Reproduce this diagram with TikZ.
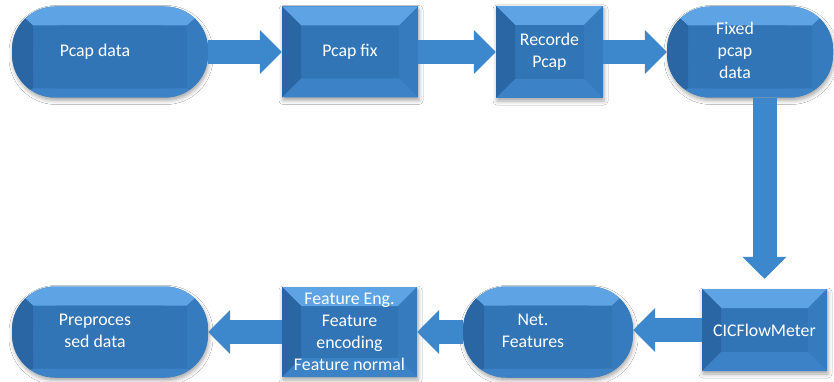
\documentclass[tikz,border=0pt]{standalone}
\usepackage{fontspec}
\setmainfont{Carlito}
\usetikzlibrary{arrows.meta,shadows.blur}

\definecolor{faceblue}{RGB}{50,117,182}
\definecolor{topblue}{RGB}{94,164,228}
\definecolor{leftblue}{RGB}{42,102,163}
\definecolor{rightblue}{RGB}{54,123,190}
\definecolor{botblue}{RGB}{60,130,198}
\definecolor{arrowblue}{RGB}{61,135,204}

% bevelled faces of a node: top, side and bottom inset
\newcommand{\bevelfaces}[3]{%
  \coordinate (a) at (path picture bounding box.north west);
  \coordinate (b) at (path picture bounding box.north east);
  \coordinate (c) at (path picture bounding box.south east);
  \coordinate (d) at (path picture bounding box.south west);
  \coordinate (ia) at ([xshift=#2,yshift=-#1]a);
  \coordinate (ib) at ([xshift=-#2,yshift=-#1]b);
  \coordinate (ic) at ([xshift=-#2,yshift=#3]c);
  \coordinate (id) at ([xshift=#2,yshift=#3]d);
  \fill[topblue,sharp corners] (a) -- (b) -- (ib) -- (ia) -- cycle;
  \fill[leftblue,sharp corners] (a) -- (ia) -- (id) -- (d) -- cycle;
  \fill[rightblue,sharp corners] (b) -- (c) -- (ic) -- (ib) -- cycle;
  \fill[botblue,sharp corners] (d) -- (id) -- (ic) -- (c) -- cycle;
}
% text of the round ends sits a little to the left
\newcommand{\pilltext}[1]{\begin{tabular}{@{}c@{}}#1\end{tabular}\hspace*{30pt}}

\begin{document}
\begin{tikzpicture}[x=1pt, y=-1pt, every node/.style={font=\fontsize{17.8}{22}\selectfont, text=white, align=center, inner sep=0pt}]
  \tikzstyle{drop}=[blur shadow={shadow xshift=1pt, shadow yshift=-3pt, shadow blur radius=4pt, shadow opacity=35}]
  \tikzstyle{box}=[fill=faceblue, drop, minimum height=91pt, path picture={\bevelfaces{19pt}{19pt}{19pt}}]
  \tikzstyle{pill}=[fill=faceblue, drop, rounded corners=43pt, minimum height=91pt, path picture={\bevelfaces{19pt}{21pt}{9pt}\fill[faceblue, rounded corners=28pt] (ia) rectangle (ic);}]
  \tikzstyle{flow}=[draw=arrowblue, line width=24pt, -{Triangle[length=22pt, width=43pt]}]
  \path[use as bounding box, fill=white] (0,0) rectangle (834,382);

  \node[pill, minimum width=196pt] (pcap) at (110,52) {\pilltext{Pcap data}};
  \node[box, minimum width=136pt] (fix) at (350,52) {Pcap fix};
  \node[box, minimum width=107pt, minimum height=92pt] (rec) at (549.5,52) {Recorde\\Pcap};
  \node[pill, minimum width=166pt] (fixed) at (750,52) {\pilltext{Fixed\\pcap\\data}};
  \node[box, minimum width=125pt, minimum height=82pt] (cic) at (764.5,330) {CICFlowMeter};
  \node[pill, minimum width=170pt] (net) at (548,332) {\pilltext{Net.\\Features}};
  \node[box, minimum width=135pt, minimum height=90pt] (feat) at (349.5,332) {Feature Eng.\\Feature\\encoding\\Feature normal};
  \node[pill, minimum width=196pt] (pre) at (110,332) {\pilltext{Preproces\\sed data}};

  \draw[flow] (pcap) -- (fix);
  \draw[flow] (fix) -- (rec);
  \draw[flow] (rec) -- (fixed);
  \draw[flow] (fixed.south -| cic.north) -- ([yshift=10pt]cic.north);
  \draw[flow] (cic.west) -- (cic.west -| net.east);
  \draw[flow] (net.west) -- (net.west -| feat.east);
  \draw[flow] (feat.west) -- (feat.west -| pre.east);
\end{tikzpicture}
\end{document}
